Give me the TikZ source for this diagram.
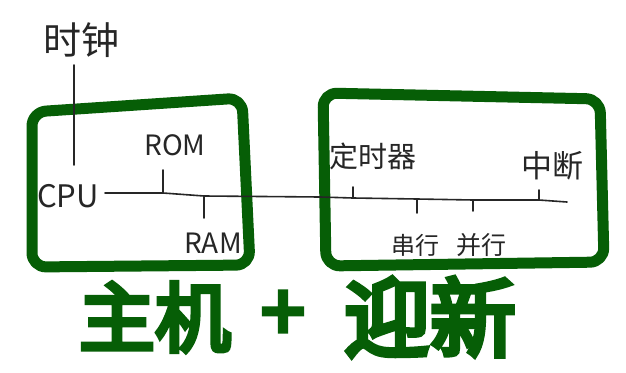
\documentclass[tikz,border=0pt]{standalone}
\usepackage{fontspec}
\setmainfont{Noto Sans CJK SC}
\newfontfamily\cjk{Noto Sans CJK SC}
\newfontfamily\cjkbold[FakeBold=6]{Noto Sans CJK SC}
\definecolor{boxgreen}{HTML}{065E06}
\begin{document}
\begin{tikzpicture}[x=1pt,y=-1pt,
  hand/.style={draw=black!85, line width=1.6pt, line cap=round, line join=round},
  frame/.style={draw=boxgreen, line width=11pt, line cap=round, line join=round, rounded corners=14pt},
  lbl/.style={inner sep=0pt, text=black!85},
  big/.style={inner sep=0pt, text=boxgreen}]
\useasboundingbox (0,0) rectangle (626,372);
\fill[white] (0,0) rectangle (626,372);

% frames
\draw[frame] (32,112) -- (242,98) -- (250,265) -- (32,267) -- cycle;
\draw[frame] (323,93) -- (600,99) -- (604,262) -- (326,266) -- cycle;

% labels
\node[lbl, font=\cjk\fontsize{38}{38}\selectfont] (clk) at (81,40) {时钟};
\node[lbl, font=\fontsize{31}{31}\selectfont] (cpu) at (68,196) {CPU};
\node[lbl, font=\fontsize{28}{28}\selectfont] (rom) at (175,145) {ROM};
\node[lbl, font=\fontsize{28}{28}\selectfont] (ram) at (213,243) {RAM};
\node[lbl, font=\cjk\fontsize{29}{29}\selectfont] (tmr) at (373,156) {定时器};
\node[lbl, font=\cjk\fontsize{31}{31}\selectfont] (irq) at (552,166) {中断};
\node[lbl, font=\cjk\fontsize{24}{24}\selectfont] (ser) at (415,245) {串行};
\node[lbl, font=\cjk\fontsize{25}{25}\selectfont] (par) at (481,245) {并行};

% clock line
\coordinate (clkTop) at (74,65);
\coordinate (clkBot) at (74,165);
\draw[hand] (clkTop) -- (clkBot);

% bus
\coordinate (busA) at (105,193);
\coordinate (bROM) at (163,193);
\coordinate (bRAM) at (204,196);
\coordinate (bTMR) at (353,198);
\coordinate (bSER) at (417,199);
\coordinate (bPAR) at (473,200);
\coordinate (bIRQ) at (539,200);
\coordinate (busB) at (567,202);
\draw[hand] (busA) -- (bROM) -- (bRAM) -- (320,197) -- (bTMR) -- (bSER) -- (bPAR) -- (bIRQ) -- (busB);

% ticks
\draw[hand] (bROM) -- (163,170);
\draw[hand] (bRAM) -- (204,218);
\draw[hand] (bTMR) -- (353,187);
\draw[hand] (bSER) -- (417,213);
\draw[hand] (bPAR) -- (473,211);
\draw[hand] (bIRQ) -- (539,190);

% bottom title
\node[big, font=\cjkbold\fontsize{76}{76}\selectfont] (host) at (155,317) {主机};
\node[big, font=\cjkbold\fontsize{78}{78}\selectfont] (plus) at (283,316) {+};
\node[big, font=\cjkbold\fontsize{86}{86}\selectfont] (dev) at (430,317) {迎新};
\end{tikzpicture}
\end{document}
